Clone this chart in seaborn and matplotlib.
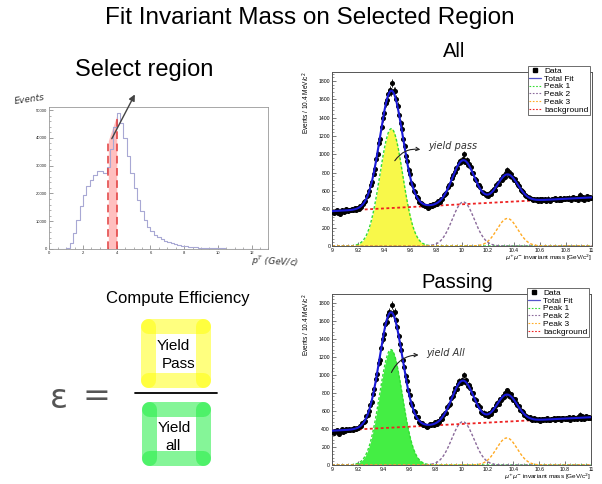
import numpy as np
import pandas as pd

import matplotlib
matplotlib.use("Agg")
import matplotlib.pyplot as plt
from matplotlib.lines import Line2D
from matplotlib.ticker import MultipleLocator
import seaborn as sns

# Left panel: pT histogram, 0.2 GeV/c bins from 0 to 13
pt_counts = [0, 0, 0, 0, 0, 400, 2200, 5800, 10500, 15500,
             19500, 22500, 25000, 26800, 28200, 28000, 27200, 29500, 36000, 44000,
             49000, 45500, 40000, 33500, 27500, 22000, 17500, 13500, 10500, 8000,
             6300, 5100, 4200, 3500, 2900, 2400, 2000, 1700, 1400, 1200,
             1000, 850, 720, 620, 530, 460, 400, 350, 300, 260,
             230, 200, 175, 150, 130, 115, 100, 90, 80, 70,
             60, 55, 50, 45, 40]
pt_range = [0, 13]
pt_ticks = [0, 2, 4, 6, 8, 10, 12]
pt_tick_labels = ["0", "2", "4", "6", "8", "10", "12"]
count_ticks = [0, 10000, 20000, 30000, 40000, 50000]
count_tick_labels = ["0", "10000", "20000", "30000", "40000", "50000"]

# selected pT window (pink band)
sel_edges = [3.5, 4.0]
sel_tops = [39000, 48000]

# Right panels: dimuon invariant mass, 10.4 MeV bins from 9 to 11
mass_counts = [368, 355, 372, 390, 362, 348, 376, 395, 371, 380,
               402, 384, 396, 388, 401, 392, 410, 398, 415, 408,
               432, 428, 461, 482, 488, 540, 555, 598, 668, 702,
               790, 842, 952, 1004, 1128, 1170, 1302, 1395, 1452, 1560,
               1588, 1662, 1702, 1680, 1778, 1690, 1695, 1604, 1530, 1428,
               1338, 1280, 1162, 1090, 985, 930, 828, 780, 690, 668,
               598, 584, 530, 528, 482, 470, 462, 448, 440, 436,
               418, 428, 452, 440, 458, 448, 472, 460, 488, 478,
               516, 508, 556, 572, 580, 640, 668, 676, 742, 770,
               808, 850, 846, 902, 930, 912, 948, 1002, 920, 940,
               880, 892, 858, 800, 795, 730, 722, 670, 662, 640,
               590, 578, 582, 552, 570, 548, 580, 566, 604, 620,
               612, 660, 690, 680, 730, 720, 768, 752, 800, 830,
               808, 760, 782, 740, 722, 730, 688, 660, 652, 612,
               598, 590, 556, 548, 530, 522, 528, 510, 504, 516,
               498, 512, 494, 508, 492, 510, 498, 512, 496, 518,
               502, 494, 514, 508, 520, 500, 516, 506, 522, 502,
               518, 526, 508, 520, 512, 528, 504, 522, 530, 512,
               526, 506, 530, 560, 512, 538, 506, 522, 540, 518,
               534, 526]
mass_range = [9, 11]
mass_ticks = [9, 9.2, 9.4, 9.6, 9.8, 10, 10.2, 10.4, 10.6, 10.8, 11]
mass_tick_labels = ["9", "9.2", "9.4", "9.6", "9.8", "10", "10.2", "10.4", "10.6", "10.8", "11"]
event_ticks = [0, 200, 400, 600, 800, 1000, 1200, 1400, 1600, 1800]
event_tick_labels = [str(v) for v in event_ticks]

# fit parameters
peak_names = ["Peak 1", "Peak 2", "Peak 3"]
peak_means = [9.455, 10.01, 10.35]
peak_sigmas = [0.088, 0.085, 0.080]
peak_heights = [1280, 480, 300]
bkg_ends = [380, 530]

peak_colors = ["#33dd33", "#8a6a9a", "#ffaa22"]
bkg_color = "#ee2222"
fit_color = "#1a1ad8"

sns.set_style("ticks")
plt.rcParams["font.family"] = ["Liberation Sans", "DejaVu Sans"]
plt.rcParams["mathtext.fontset"] = "dejavusans"
plt.rcParams["text.color"] = "black"
plt.rcParams["xtick.labelcolor"] = "black"
plt.rcParams["ytick.labelcolor"] = "black"

W, H = 602, 484
fig = plt.figure(figsize=(W / 100, H / 100), dpi=100)


def frac(left, top, right, bottom):
    return [left / W, 1 - bottom / H, (right - left) / W, (bottom - top) / H]


ax_pt = fig.add_axes(frac(49.3, 106.7, 268.5, 249))
ax_all = fig.add_axes(frac(332.3, 71.8, 591.7, 246))
ax_pass = fig.add_axes(frac(332, 293.7, 591, 465))

# ---- pT histogram
pt_edges = np.linspace(pt_range[0], pt_range[1], len(pt_counts) + 1)
pt_df = pd.DataFrame({"pt": (pt_edges[:-1] + pt_edges[1:]) / 2, "n": pt_counts})
ax_pt.fill_between(sel_edges, 0, sel_tops, color="#ffb0b0", alpha=0.8, lw=0, zorder=1)
sns.histplot(data=pt_df, x="pt", weights="n", bins=list(pt_edges), element="step",
             fill=False, color="#a8a8d4", linewidth=0.8, ax=ax_pt, zorder=2)
for x, top in zip(sel_edges, sel_tops):
    ax_pt.plot([x, x], [0, top], color="#e23a3a", lw=1.1, ls=(0, (5, 3)), zorder=3)
ax_pt.annotate("", xy=(5.15, 56500), xytext=(3.63, 38800),
               arrowprops=dict(arrowstyle="-|>", color="#444444", lw=1.0, mutation_scale=9),
               annotation_clip=False, zorder=4)
ax_pt.set_xlim(pt_range)
ax_pt.set_ylim(0, 51200)
ax_pt.set_xlabel("")
ax_pt.set_ylabel("")
ax_pt.set_xticks(pt_ticks)
ax_pt.set_xticklabels(pt_tick_labels)
ax_pt.set_yticks(count_ticks)
ax_pt.set_yticklabels(count_tick_labels)
ax_pt.xaxis.set_minor_locator(MultipleLocator(0.5))
ax_pt.yaxis.set_minor_locator(MultipleLocator(2000))
ax_pt.tick_params(which="both", direction="in", labelsize=3, color="#777777", labelcolor="#222222", pad=1.5)
ax_pt.tick_params(which="major", length=3, width=0.5)
ax_pt.tick_params(which="minor", length=1.5, width=0.4)
for s in ax_pt.spines.values():
    s.set_visible(True)
    s.set_color("#999999")
    s.set_linewidth(0.6)

# ---- mass fits
mass_edges = np.linspace(mass_range[0], mass_range[1], len(mass_counts) + 1)
mass_centers = (mass_edges[:-1] + mass_edges[1:]) / 2
mass_grid = np.linspace(mass_range[0], mass_range[1], 801)


def gauss(x, mean, sigma, height):
    return height * np.exp(-0.5 * ((x - mean) / sigma) ** 2)


def draw_fit(ax, fill_color, note, note_xy, arrow_tail, arrow_head):
    peaks = [gauss(mass_grid, m, s, h) for m, s, h in zip(peak_means, peak_sigmas, peak_heights)]
    bkg = bkg_ends[0] + (bkg_ends[1] - bkg_ends[0]) * (mass_grid - mass_range[0]) / (mass_range[1] - mass_range[0])
    total = bkg + sum(peaks)

    ax.fill_between(mass_grid, 0, peaks[0], color=fill_color, lw=0, zorder=1)
    for p, c in zip(peaks, peak_colors):
        sns.lineplot(x=mass_grid, y=p, ax=ax, color=c, lw=1.0, ls=(0, (2, 1.4)),
                     estimator=None, legend=False, zorder=2)
    sns.lineplot(x=mass_grid, y=bkg, ax=ax, color=bkg_color, lw=1.3, ls=(0, (1.6, 1.4)),
                 estimator=None, legend=False, zorder=2)
    ax.errorbar(mass_centers, mass_counts, yerr=np.sqrt(mass_counts), fmt="o", ms=2.6,
                mfc="black", mec="black", ecolor="black", elinewidth=0.6, capsize=0, zorder=3)
    sns.lineplot(x=mass_grid, y=total, ax=ax, color=fit_color, lw=1.5,
                 estimator=None, legend=False, zorder=4)

    ax.set_xlim(mass_range)
    ax.set_ylim(0, 1900)
    ax.set_xlabel("")
    ax.set_ylabel("")
    ax.set_xticks(mass_ticks)
    ax.set_xticklabels(mass_tick_labels)
    ax.set_yticks(event_ticks)
    ax.set_yticklabels(event_tick_labels)
    ax.xaxis.set_minor_locator(MultipleLocator(0.04))
    ax.yaxis.set_minor_locator(MultipleLocator(40))
    ax.tick_params(which="both", direction="in", labelsize=3.7, color="#444444", pad=1.5)
    ax.tick_params(which="major", length=3.2, width=0.5)
    ax.tick_params(which="minor", length=1.6, width=0.4)
    for s in ax.spines.values():
        s.set_visible(True)
        s.set_color("#555555")
        s.set_linewidth(0.7)

    ax.text(-0.099, 1.0, "Events / 10.4 MeV/c$^{2}$", transform=ax.transAxes,
            rotation=90, ha="center", va="top", fontsize=4.7)
    ax.text(1.0, -0.07, r"$\mu^{+}\mu^{-}$ invariant mass [GeV/c$^{2}$]", transform=ax.transAxes,
            ha="right", va="center", fontsize=4.6)

    ax.annotate("", xy=arrow_head, xytext=arrow_tail,
                arrowprops=dict(arrowstyle="->", color="#222222", lw=0.8,
                                connectionstyle="arc3,rad=-0.35", mutation_scale=6),
                zorder=6)
    ax.text(note_xy[0], note_xy[1], note, ha="center", va="center", fontsize=7,
            family="DejaVu Sans", style="italic", fontweight="light", color="#333333", zorder=6)

    handles = [Line2D([], [], marker="s", ls="none", color="black", ms=2.5, label="Data"),
               Line2D([], [], color="#5555cc", lw=0.9, label="Total Fit")]
    for name, c in zip(peak_names, peak_colors):
        handles.append(Line2D([], [], color=c, lw=0.8, ls=(0, (1.5, 1.5)), label=name))
    handles.append(Line2D([], [], color=bkg_color, lw=0.8, ls=(0, (1.5, 1.5)), label="background"))
    leg = ax.legend(handles=handles, loc="upper right", bbox_to_anchor=(0.992, 1.035),
                    fontsize=6, frameon=True, fancybox=False, framealpha=1, edgecolor="#555555",
                    borderpad=0.15, labelspacing=0.0, handlelength=1.4, handletextpad=0.4,
                    borderaxespad=0)
    leg.get_frame().set_linewidth(0.6)
    leg.set_zorder(10)


draw_fit(ax_all, "#f8f84a", "yield pass", (9.93, 1091), (9.47, 905), (9.70, 1047))
draw_fit(ax_pass, "#44ee44", "yield All", (9.88, 1242), (9.45, 998), (9.69, 1220))

# ---- overlay in pixel coordinates for the slide text and efficiency sketch
ov = fig.add_axes([0, 0, 1, 1])
ov.set_xlim(0, W)
ov.set_ylim(H, 0)
ov.axis("off")
ov.patch.set_alpha(0)

ov.text(310, 24, "Fit Invariant Mass on Selected Region", ha="center", va="baseline", fontsize=17.5)
ov.text(144, 76, "Select region", ha="center", va="baseline", fontsize=17)
ov.text(454, 57, "All", ha="center", va="baseline", fontsize=14.5)
ov.text(457, 288, "Passing", ha="center", va="baseline", fontsize=14.5)
ov.text(177.5, 303, "Compute Efficiency", ha="center", va="baseline", fontsize=12)

ov.text(30, 99, "Events", ha="center", va="center", rotation=8, fontsize=6.5,
        family="DejaVu Sans", style="italic", fontweight="light", color="#333333")
ov.text(275, 262, "p$^{T}$ (GeV/c)", ha="center", va="center", rotation=-3, fontsize=6.5,
        family="DejaVu Sans", style="italic", fontweight="light", color="#333333")


def yield_box(x0, y0, x1, y1, color, alpha):
    inset = 7.5
    pts = [(x0 + inset, y0 + inset), (x1 - inset, y0 + inset),
           (x1 - inset, y1 - inset), (x0 + inset, y1 - inset)]
    for a, b in zip(pts, pts[1:] + pts[:1]):
        ov.plot([a[0], b[0]], [a[1], b[1]], color=color, alpha=alpha, lw=10.8,
                solid_capstyle="round")


yield_box(140, 318, 210, 387, "#ffff00", 0.5)
yield_box(141.7, 401.7, 210, 465, "#22ee44", 0.55)
ov.text(173.5, 350, "Yield", ha="center", va="baseline", fontsize=11)
ov.text(178.5, 368, "Pass", ha="center", va="baseline", fontsize=11)
ov.text(174, 431.7, "Yield", ha="center", va="baseline", fontsize=11)
ov.text(173.5, 450, "all", ha="center", va="baseline", fontsize=11)
ov.plot([135, 217], [393.3, 393.3], color="black", lw=1.3)
ov.text(58.5, 399, "ε", ha="center", va="center", fontsize=24, family="DejaVu Sans", color="#555555")
ov.text(96.5, 397, "=", ha="center", va="center", fontsize=24, family="DejaVu Sans", color="#555555")

fig.savefig("out.png", dpi=100)
